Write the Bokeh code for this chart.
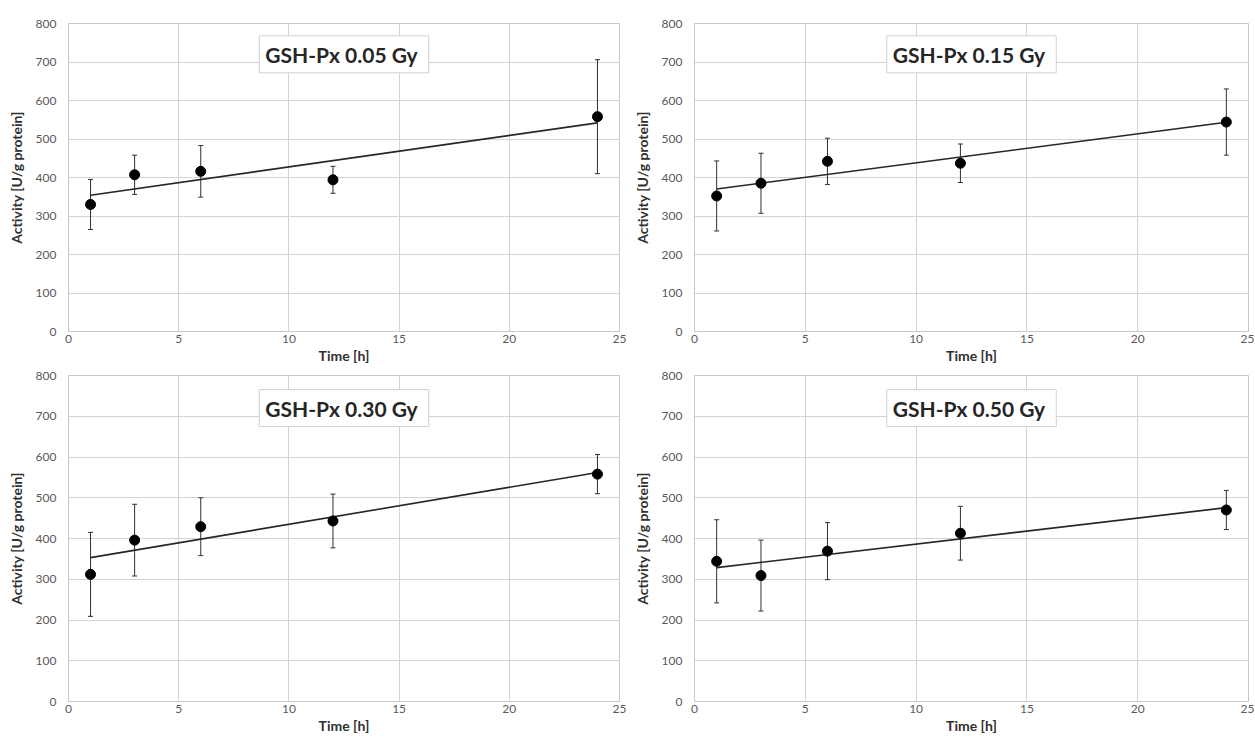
import numpy as np
from bokeh.plotting import figure
from bokeh.layouts import column, row
from bokeh.models import ColumnDataSource, Whisker, TeeHead, Label
from bokeh.embed import file_html
from bokeh.resources import INLINE

time_h = [1, 3, 6, 12, 24]
titles = ["GSH-Px  0.05 Gy", "GSH-Px  0.15 Gy", "GSH-Px  0.30 Gy", "GSH-Px  0.50 Gy"]

mean_005 = [330, 407, 416, 394, 558]
sd_005 = [65, 51, 67, 35, 148]
mean_015 = [352, 385, 442, 437, 544]
sd_015 = [91, 78, 60, 50, 86]
mean_030 = [312, 396, 429, 443, 558]
sd_030 = [103, 88, 71, 66, 48]
mean_050 = [344, 309, 369, 413, 470]
sd_050 = [102, 87, 70, 66, 48]

x_ticks = [0, 5, 10, 15, 20, 25]
y_ticks = [0, 100, 200, 300, 400, 500, 600, 700, 800]

FONT = "Lato"


def make_panel(title, mean, sd, width, height, bl, br, bt, bb):
    p = figure(width=width, height=height, x_range=(0, 25), y_range=(0, 800),
               output_backend="svg", toolbar_location=None,
               min_border_left=bl, min_border_right=br,
               min_border_top=bt, min_border_bottom=bb)
    p.background_fill_color = "white"
    p.border_fill_color = "white"
    p.outline_line_color = "#c8c8c8"
    p.outline_line_width = 1

    for ax in (p.xaxis[0], p.yaxis[0]):
        ax.axis_line_color = "#c8c8c8"
        ax.major_tick_line_color = None
        ax.minor_tick_line_color = None
        ax.major_tick_out = 0
        ax.major_tick_in = 0
        ax.minor_tick_out = 0
        ax.major_label_text_font = FONT
        ax.major_label_text_font_size = "12px"
        ax.major_label_text_color = "#595959"
        ax.axis_label_text_font = FONT
        ax.axis_label_text_font_style = "bold"
        ax.axis_label_text_color = "#303030"

    p.xaxis.ticker = x_ticks
    p.yaxis.ticker = y_ticks
    p.xaxis.axis_label = "Time [h]"
    p.xaxis.axis_label_text_font_size = "14px"
    p.yaxis.axis_label = "Activity [U/g protein]"
    p.yaxis.axis_label_text_font_size = "14px"
    p.xaxis.major_label_standoff = 3
    p.xaxis.axis_label_standoff = 1
    p.yaxis.major_label_standoff = 12
    p.yaxis.axis_label_standoff = 8

    p.xgrid.grid_line_color = "#d3d3d3"
    p.ygrid.grid_line_color = "#d3d3d3"

    t = np.array(time_h, dtype=float)
    m = np.array(mean, dtype=float)
    s = np.array(sd, dtype=float)
    src = ColumnDataSource(dict(t=t, m=m, lo=m - s, hi=m + s))

    # linear trend line (least-squares fit of the means)
    slope, icpt = np.polyfit(t, m, 1)
    tx = [t.min(), t.max()]
    p.line(tx, [icpt + slope * v for v in tx], line_color="#262626", line_width=1.6)

    w = Whisker(source=src, base="t", lower="lo", upper="hi",
                line_color="#303030", line_width=1,
                upper_head=TeeHead(size=5, line_color="#303030", line_width=1),
                lower_head=TeeHead(size=5, line_color="#303030", line_width=1))
    p.add_layout(w)

    p.scatter("t", "m", source=src, size=10, marker="circle",
              fill_color="black", line_color="black")

    lbl = Label(x=12.5, y=720, text=title, text_align="center", text_baseline="middle",
                text_font=FONT, text_font_size="21px", text_font_style="bold",
                text_color="#262626", background_fill_color="white",
                border_line_color="#d0d0d0", border_line_width=1, padding=6)
    p.add_layout(lbl)
    return p


p1 = make_panel(titles[0], mean_005, sd_005, 626, 369, 68, 7, 23, 38)
p2 = make_panel(titles[1], mean_015, sd_015, 628, 369, 68, 6, 23, 38)
p3 = make_panel(titles[2], mean_030, sd_030, 626, 367, 68, 7, 6, 35)
p4 = make_panel(titles[3], mean_050, sd_050, 628, 367, 68, 6, 6, 35)

layout = column(row(p1, p2), row(p3, p4))

open("out.html", "w").write(file_html(layout, INLINE))
